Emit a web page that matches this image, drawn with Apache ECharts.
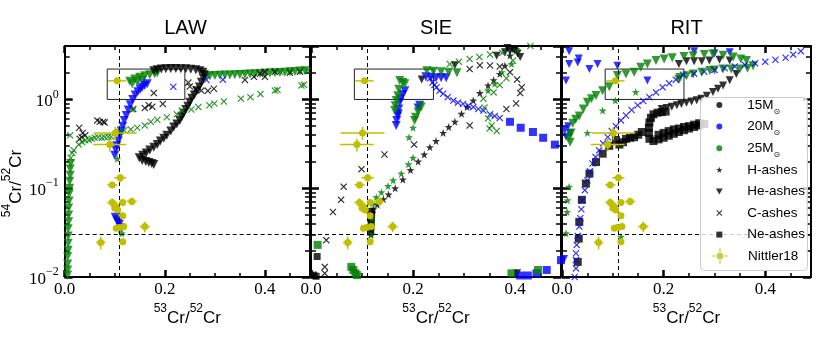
<!DOCTYPE html>
<html>
<head>
<meta charset="utf-8">
<script src="https://cdn.jsdelivr.net/npm/echarts@6/dist/echarts.min.js"></script>
<style>
  html, body { margin: 0; padding: 0; background: #fff; }
  #chart { width: 830px; height: 346px; }
</style>
</head>
<body>
<div id="chart"></div>
<script>
// ---- axes / reference values ----
const panels = ['LAW', 'SIE', 'RIT'];
const xMax = 0.49;
const yMin = 0.01, yMax = 4;
const xMajor = [0, 0.2, 0.4];
const xMinor = [0.05, 0.1, 0.15, 0.25, 0.3, 0.35, 0.45];
const yMinor = [0.02, 0.03, 0.04, 0.05, 0.06, 0.07, 0.08, 0.09, 0.2, 0.3, 0.4, 0.5, 0.6, 0.7, 0.8, 0.9, 2, 3];
const solarX = 0.1134, solarY = 0.0282;
const boxX = [0.085, 0.24], boxY = [1.0, 2.2];

// ---- Nittler18 grains (same in every panel) ----
const nitX    = [0.105, 0.101, 0.090, 0.111, 0.095, 0.095, 0.134, 0.116, 0.103, 0.106, 0.116, 0.109, 0.118, 0.103, 0.160, 0.072, 0.116, 0.100];
const nitY    = [1.62, 0.42, 0.31, 0.131, 0.109, 0.069, 0.071, 0.069, 0.062, 0.057, 0.049, 0.036, 0.037, 0.0355, 0.037, 0.0245, 0.025, 0.060];
const nitXErr = [0.018, 0.043, 0.033, 0.012, 0.010, 0.010, 0.010, 0.003, 0.004, 0.004, 0.003, 0.003, 0.003, 0.003, 0.010, 0.009, 0.002, 0.003];
const nitYErr = [0.10, 0.07, 0.05, 0.014, 0.009, 0.008, 0.007, 0.003, 0.003, 0.003, 0.002, 0.002, 0.002, 0.002, 0.005, 0.004, 0.001, 0.002];

// ---- LAW ----
const law15He = [[0.178,0.185],[0.174,0.19],[0.168,0.195],[0.162,0.2],[0.155,0.205],[0.149,0.22],[0.156,0.235],[0.163,0.25],[0.17,0.27],[0.178,0.29],[0.185,0.31],[0.191,0.34],[0.198,0.365],[0.204,0.394],[0.212,0.44],[0.218,0.49],[0.224,0.53],[0.23,0.58],[0.234,0.64],[0.238,0.7],[0.242,0.77],[0.246,0.84],[0.25,0.93],[0.254,1.03],[0.259,1.12],[0.264,1.25],[0.269,1.38],[0.273,1.56],[0.277,1.72],[0.279,1.9],[0.276,2.03],[0.27,2.1],[0.262,2.16],[0.252,2.19],[0.242,2.21],[0.232,2.22],[0.222,2.23],[0.212,2.23],[0.202,2.22],[0.193,2.2],[0.185,2.16],[0.178,2.1]];
const law15C = [[0.029,0.48],[0.034,0.375],[0.03,0.36],[0.041,0.394],[0.036,0.42],[0.065,0.58],[0.07,0.56],[0.077,0.56],[0.08,0.55],[0.137,0.78],[0.16,0.8],[0.168,0.86],[0.175,0.83],[0.196,0.89],[0.178,1.18],[0.25,1.4],[0.262,1.3],[0.273,1.26],[0.286,1.25],[0.298,1.32],[0.247,1.55],[0.36,1.66],[0.378,1.8],[0.40,1.8],[0.39,1.95],[0.40,2.05],[0.42,2.05],[0.45,2.0],[0.47,2.05]];
const law20He = [[0.1,0.235],[0.102,0.27],[0.104,0.3],[0.107,0.34],[0.11,0.39],[0.113,0.44],[0.116,0.5],[0.119,0.58],[0.123,0.66],[0.127,0.76],[0.131,0.87],[0.136,1.0],[0.141,1.12],[0.146,1.22],[0.151,1.3],[0.155,1.37],[0.16,1.44],[0.165,1.5],[0.101,0.047],[0.104,0.044],[0.107,0.041],[0.109,0.039],[0.111,0.036]];
const law20C = [[0.217,1.39],[0.283,1.66],[0.316,1.67]];
const law25He = [[0.006,0.0105],[0.006,0.012],[0.006,0.014],[0.006,0.017],[0.007,0.02],[0.007,0.024],[0.007,0.029],[0.007,0.035],[0.008,0.042],[0.008,0.05],[0.008,0.06],[0.009,0.072],[0.009,0.086],[0.01,0.1],[0.01,0.12],[0.011,0.14],[0.011,0.165],[0.012,0.19],
  [0.13,1.6],[0.14,1.7],[0.15,1.78],[0.16,1.85],[0.17,1.9],[0.18,1.95],[0.135,1.5],[0.145,1.58],[0.155,1.65],[0.185,2.0],
  [0.283,1.84],[0.29,1.85],[0.3,1.86],[0.31,1.87],[0.32,1.88],[0.33,1.89],[0.34,1.9],[0.35,1.91],[0.36,1.92],[0.37,1.94],[0.38,1.95],[0.39,1.96],[0.4,1.97],[0.41,1.98],[0.42,2.0],[0.43,2.01],[0.44,2.03],[0.45,2.05],[0.46,2.07],[0.47,2.09],[0.48,2.1]];
const law25C = [[0.012,0.22],[0.015,0.25],[0.011,0.394],[0.018,0.267],[0.028,0.31],[0.035,0.33],[0.041,0.346],[0.048,0.35],[0.054,0.36],[0.06,0.37],[0.067,0.375],[0.074,0.37],[0.08,0.375],[0.087,0.38],[0.093,0.38],[0.109,0.43],[0.119,0.45],[0.132,0.46],[0.145,0.48],[0.16,0.51],[0.172,0.56],[0.185,0.59],[0.204,0.63],[0.224,0.68],[0.234,0.75],[0.253,0.77],[0.267,0.82],[0.289,0.86],[0.299,0.9],[0.318,0.95],[0.352,1.02],[0.371,1.06],[0.391,1.15],[0.42,1.26],[0.425,1.28],[0.473,1.44],[0.478,1.46],[0.43,2.05],[0.45,2.08],[0.47,2.1],[0.485,2.12]];
const law25H = [[0.105,0.215],[0.114,0.031],[0.112,0.035],[0.136,0.78]];

// ---- SIE ----
const sie15H = [[0.118,0.03],[0.118,0.034],[0.118,0.038],[0.118,0.043],[0.119,0.048],[0.12,0.053],[0.122,0.058],[0.13,0.065],[0.142,0.075],[0.152,0.085],[0.165,0.1],[0.18,0.125],[0.195,0.16],[0.21,0.2],[0.222,0.24],[0.233,0.29],[0.245,0.34],[0.259,0.42],[0.27,0.49],[0.282,0.56],[0.295,0.69],[0.306,0.82],[0.318,0.97],[0.331,1.18],[0.347,1.44],[0.358,1.65],[0.37,1.94],[0.38,2.4],[0.39,3.12],[0.40,3.7]];
const sie15C = [[0.027,0.013],[0.027,0.011],[0.03,0.026],[0.043,0.054],[0.059,0.074],[0.064,0.104],[0.099,0.164],[0.144,0.24],[0.202,0.31],[0.311,0.51],[0.383,0.78],[0.402,0.9],[0.41,1.18],[0.413,1.37],[0.404,1.68],[0.39,2.03],[0.37,2.35],[0.351,2.41],[0.331,2.42],[0.311,2.2]];
const sie15He = [[0.217,1.68],[0.282,2.42],[0.364,3.1],[0.38,3.4],[0.39,3.5],[0.395,3.7],[0.4,3.6],[0.405,3.3],[0.41,3.0],[0.385,3.8],[0.404,0.011]];
const sie15Ne = [[0.012,0.017],[0.005,0.0105],[0.01,0.0102],[0.117,0.032],[0.117,0.036],[0.118,0.04],[0.118,0.045],[0.118,0.05],[0.119,0.055]];
const sie20He = [[0.167,0.51],[0.168,0.58],[0.17,0.65],[0.171,0.69],[0.172,0.78],[0.174,0.93],[0.176,1.02],[0.18,1.14],[0.184,1.25],[0.213,0.86],[0.21,0.8],[0.225,1.8],[0.235,1.78],[0.245,1.76],[0.255,1.75],[0.265,1.76]];
const sie20C = [[0.233,1.73],[0.238,1.55],[0.242,1.45],[0.246,1.37],[0.252,1.25],[0.259,1.16],[0.268,1.06],[0.279,0.97],[0.288,0.92],[0.298,0.89],[0.308,0.85],[0.318,0.82],[0.328,0.78],[0.338,0.75],[0.351,0.68],[0.36,0.65],[0.37,0.62]];
const sie20Ne = [[0.39,0.56],[0.411,0.48],[0.435,0.43],[0.455,0.37],[0.478,0.31],[0.41,0.0104],[0.425,0.0104],[0.442,0.011],[0.462,0.012],[0.49,0.0155]];
const sie25He = [[0.174,1.63],[0.18,1.55],[0.184,1.5],[0.172,1.3],[0.17,1.1],[0.167,0.97],[0.165,0.85],[0.164,0.75],[0.216,0.82],[0.21,0.72],[0.205,0.63],[0.203,0.58],[0.227,2.1],[0.24,2.08],[0.255,2.05],[0.27,2.03],[0.286,2.0]];
const sie25H = [[0.117,0.03],[0.118,0.036],[0.119,0.045],[0.121,0.067],[0.128,0.079],[0.138,0.09],[0.151,0.106],[0.161,0.123],[0.177,0.146],[0.191,0.186],[0.2,0.22],[0.192,0.375],[0.2,0.48],[0.347,1.26],[0.36,1.5],[0.374,2.03],[0.393,2.5]];
const sie25C = [[0.272,2.5],[0.29,2.65],[0.311,2.85],[0.33,3.0],[0.351,3.2],[0.375,3.35],[0.403,3.5],[0.43,4.0],[0.338,1.02],[0.34,0.81],[0.347,0.61],[0.354,0.51],[0.364,0.44],[0.35,0.47],[0.358,1.2],[0.37,1.45],[0.383,1.73],[0.396,2.74]];
const sie25Ne = [[0.013,0.023],[0.079,0.013],[0.083,0.012],[0.087,0.011],[0.09,0.0105],[0.393,0.011],[0.445,0.012]];

// ---- RIT ----
const rit15He = [[0.196,0.78],[0.206,0.8],[0.216,0.83],[0.226,0.86],[0.235,0.89],[0.245,0.92],[0.255,0.95],[0.265,0.98],[0.274,1.02],[0.285,1.1],[0.297,1.21],[0.307,1.32],[0.317,1.44],[0.33,1.65],[0.343,1.93],[0.23,2.5],[0.245,2.7],[0.26,2.7],[0.275,2.7],[0.29,2.75],[0.31,2.8],[0.33,2.75]];
const rit15Ne = [[0.031,0.0148],[0.033,0.0271],[0.034,0.0418],[0.039,0.074],[0.047,0.113],[0.054,0.146],[0.067,0.197],[0.08,0.245],[0.093,0.3],[0.106,0.35],[0.113,0.31],[0.12,0.33],[0.126,0.36],[0.134,0.37],[0.142,0.375],[0.15,0.4],[0.157,0.43],
  [0.172,0.36],[0.171,0.42],[0.171,0.48],[0.172,0.55],[0.175,0.62],[0.18,0.68],[0.188,0.71],[0.196,0.72],[0.204,0.73],
  [0.18,0.34],[0.19,0.355],[0.2,0.37],[0.21,0.39],[0.22,0.41],[0.23,0.43],[0.24,0.45],[0.25,0.47],[0.26,0.49],[0.27,0.51],[0.28,0.53],
  [0.19,0.4],[0.2,0.42],[0.21,0.44],[0.22,0.46],[0.23,0.47],[0.24,0.49],[0.25,0.5],[0.26,0.52],[0.27,0.54]];
const rit20He = [[0.014,3.5],[0.014,2.5],[0.031,2.6],[0.033,2.9],[0.054,2.2],[0.07,2.5],[0.109,2.4],[0.168,1.63],[0.008,1.63],[0.005,0.45],[0.012,0.5],[0.015,0.42],[0.008,0.38],[0.004,0.016],[0.26,3.5],[0.3,3.3],[0.33,3.4]];
const rit20C = [[0.025,0.01],[0.0275,0.0125],[0.0275,0.0155],[0.0275,0.0185],[0.029,0.023],[0.031,0.029],[0.034,0.037],[0.036,0.046],[0.038,0.058],[0.04,0.073],[0.045,0.095],[0.05,0.123],[0.055,0.155],[0.06,0.19],[0.066,0.225],[0.073,0.267],[0.081,0.32],[0.09,0.375],[0.098,0.44],[0.106,0.5],[0.116,0.58],[0.126,0.66],[0.137,0.76],[0.149,0.86],[0.16,0.96],[0.172,1.06],[0.185,1.2],[0.198,1.37],[0.211,1.52],[0.224,1.67],[0.238,1.9],[0.26,1.95],[0.28,2.05],[0.3,2.15],[0.32,2.25],[0.34,2.35],[0.36,2.45],[0.38,2.55],[0.4,2.65],[0.42,2.8],[0.44,2.95],[0.455,3.2],[0.47,3.5]];
const rit25He = [[0.014,0.375],[0.016,0.33],[0.018,0.42],[0.021,0.54],[0.027,0.6],[0.034,0.65],[0.042,0.78],[0.05,0.93],[0.058,1.02],[0.067,1.11],[0.08,1.25],[0.093,1.39],[0.109,1.86],[0.126,1.93],[0.142,2.03],[0.155,2.3],[0.168,2.5],[0.185,2.74],[0.201,2.85],[0.217,2.95],[0.24,3.05],[0.258,3.1],[0.28,3.2],[0.297,3.25],[0.317,3.15],[0.337,3.0],[0.352,2.85],[0.363,2.74],[0.376,2.4],[0.365,2.25],[0.35,2.2],[0.333,2.2],[0.317,2.2],[0.3,2.15],[0.291,2.12],[0.275,2.03],[0.258,1.93],[0.245,1.85],[0.232,1.77],[0.23,1.68]];
const rit25H = [[0.145,1.21],[0.105,0.97],[0.08,0.75],[0.05,0.42],[0.014,0.104],[0.011,0.073],[0.01,0.054],[0.008,0.031],[0.116,0.0284]];

// ---- marker shapes ----
const STAR = 'path://M0,-10L2.35,-3.24L9.51,-3.09L3.8,1.24L5.88,8.09L0,4L-5.88,8.09L-3.8,1.24L-9.51,-3.09L-2.35,-3.24Z';
const XMARK = 'path://M0,1.2L1.2,0L5,3.8L8.8,0L10,1.2L6.2,5L10,8.8L8.8,10L5,6.2L1.2,10L0,8.8L3.8,5Z';
const TRIDOWN = 'path://M0,0L10,0L5,9Z';
const SQUARE = 'path://M0,0L10,0L10,10L0,10Z';
const NITICON = 'path://M0,9.3L20,9.3L20,10.7L0,10.7Z M10.7,0L10.7,20L9.3,20L9.3,0Z M6,10A4,4 0 1,1 14,10A4,4 0 1,1 6,10Z';
const COL = { 15: '#000000', 20: '#0000ff', 25: '#008000' };
const YEL = '#bfbf00';
const SYM = { H: STAR, He: 'triangle', C: XMARK, Ne: 'rect' };
const SIZE = { H: 8, He: 8, C: 7, Ne: 7 };

const serif = 'Liberation Serif';
const sans = 'Liberation Sans';
const supRich = {
  b: { fontFamily: sans, fontSize: 17, lineHeight: 24, verticalAlign: 'bottom', color: '#000' },
  s: { fontFamily: sans, fontSize: 12, lineHeight: 12, verticalAlign: 'top', color: '#000' }
};

function sc(p, mass, kind, pts, size) {
  return {
    type: 'scatter', name: panels[p] + ' ' + mass + ' ' + kind,
    xAxisIndex: p * 4, yAxisIndex: p * 4,
    data: pts, symbol: SYM[kind], symbolRotate: kind === 'He' ? 180 : 0,
    symbolSize: size || SIZE[kind], itemStyle: { color: COL[mass] },
    silent: true, z: 2
  };
}

function nitRender(params, api) {
  const x = api.value(0), y = api.value(1), ex = api.value(2), ey = api.value(3);
  const c = api.coord([x, y]);
  const l = api.coord([x - ex, y]), r = api.coord([x + ex, y]);
  const t = api.coord([x, y + ey]), b = api.coord([x, y - ey]);
  const st = { stroke: YEL, lineWidth: 1.5 };
  return { type: 'group', children: [
    { type: 'line', shape: { x1: l[0], y1: c[1], x2: r[0], y2: c[1] }, style: st },
    { type: 'line', shape: { x1: c[0], y1: t[1], x2: c[0], y2: b[1] }, style: st },
    { type: 'circle', shape: { cx: c[0], cy: c[1], r: 3.5 }, style: { fill: YEL } }
  ]};
}
const nitData = nitX.map((x, i) => [x, nitY[i], nitXErr[i], nitYErr[i]]);

const grids = [
  { left: 61, top: 46, width: 249, height: 231 },
  { left: 311, top: 46, width: 250, height: 231 },
  { left: 562, top: 46, width: 249, height: 231 }
];

const xAxes = [], yAxes = [];
const yMinorLog = yMinor.map(v => Math.log10(v));
panels.forEach((p, i) => {
  const major = (pos) => ({
    gridIndex: i, type: 'value', position: pos, min: 0, max: xMax,
    axisLine: { show: true, onZero: false, lineStyle: { color: '#000', width: 2 } },
    axisTick: { show: true, inside: true, length: 7, customValues: xMajor, lineStyle: { color: '#000', width: 2.5 } },
    axisLabel: { show: pos === 'bottom', customValues: xMajor, formatter: v => v.toFixed(1),
      fontFamily: serif, fontSize: 17, color: '#000', margin: 4 },
    splitLine: { show: false },
    name: pos === 'bottom' ? '{s|53}{b|Cr/}{s|52}{b|Cr}' : '',
    nameLocation: 'middle', nameGap: 16, nameTextStyle: { rich: supRich }
  });
  const minor = (pos) => ({
    gridIndex: i, type: 'value', position: pos, min: 0, max: xMax,
    axisLine: { show: false, onZero: false },
    axisTick: { show: true, inside: true, length: 4, customValues: xMinor, lineStyle: { color: '#000', width: 1.5 } },
    axisLabel: { show: false }, splitLine: { show: false }
  });
  xAxes.push(major('bottom'), minor('bottom'), major('top'), minor('top'));

  const ymajor = (pos) => ({
    gridIndex: i, type: 'log', logBase: 10, position: pos, min: yMin, max: yMax,
    axisLine: { show: true, onZero: false, lineStyle: { color: '#000', width: 2 } },
    axisTick: { show: true, inside: true, length: 8, lineStyle: { color: '#000', width: 2.5 } },
    axisLabel: { show: i === 0 && pos === 'left', showMaxLabel: false, margin: 6,
      formatter: v => { const e = Math.round(Math.log10(v)); return '{b|10}{e|' + (e < 0 ? '\u2212' + (-e) : e) + '}'; },
      rich: {
        b: { fontFamily: serif, fontSize: 17, lineHeight: 22, verticalAlign: 'bottom', color: '#000' },
        e: { fontFamily: serif, fontSize: 12, lineHeight: 12, verticalAlign: 'top', color: '#000' }
      } },
    splitLine: { show: false },
    name: (i === 0 && pos === 'left') ? '{s|54}{b|Cr/}{s|52}{b|Cr}' : '',
    nameLocation: 'middle', nameGap: 38, nameRotate: 90,
    nameTextStyle: { rich: supRich, padding: [0, 44, 0, 0] }
  });
  const yminor = (pos) => ({
    gridIndex: i, type: 'value', position: pos, min: Math.log10(yMin), max: Math.log10(yMax),
    axisLine: { show: false, onZero: false },
    axisTick: { show: true, inside: true, length: 5, customValues: yMinorLog, lineStyle: { color: '#000', width: 1.5 } },
    axisLabel: { show: false }, splitLine: { show: false }
  });
  yAxes.push(ymajor('left'), yminor('left'), ymajor('right'), yminor('right'));
});

const refMarks = {
  markLine: {
    silent: true, symbol: 'none', label: { show: false },
    lineStyle: { color: '#000', width: 1, type: [4, 3] },
    data: [{ xAxis: solarX }, { yAxis: solarY }]
  },
  markArea: {
    silent: true,
    itemStyle: { color: 'rgba(0,0,0,0)', borderColor: '#222', borderWidth: 1 },
    data: [[{ xAxis: boxX[0], yAxis: boxY[0] }, { xAxis: boxX[1], yAxis: boxY[1] }]]
  }
};

const series = [
  sc(0, 25, 'He', law25He, 9), sc(0, 15, 'He', law15He, 9), sc(0, 15, 'C', law15C),
  sc(0, 20, 'He', law20He, 9), sc(0, 20, 'C', law20C), sc(0, 25, 'C', law25C), sc(0, 25, 'H', law25H),

  sc(1, 15, 'H', sie15H), sc(1, 15, 'C', sie15C), sc(1, 15, 'He', sie15He), sc(1, 15, 'Ne', sie15Ne),
  sc(1, 20, 'He', sie20He, 9), sc(1, 20, 'C', sie20C), sc(1, 20, 'Ne', sie20Ne, 8),
  sc(1, 25, 'He', sie25He, 9), sc(1, 25, 'H', sie25H), sc(1, 25, 'C', sie25C), sc(1, 25, 'Ne', sie25Ne, 8),

  sc(2, 15, 'Ne', rit15Ne, 8), sc(2, 15, 'He', rit15He), sc(2, 20, 'He', rit20He),
  sc(2, 25, 'He', rit25He, 9), sc(2, 20, 'C', rit20C), sc(2, 25, 'H', rit25H)
];
// reference lines and box on the first series of each panel
[0, 7, 18].forEach(k => Object.assign(series[k], refMarks));

panels.forEach((p, i) => {
  series.push({
    type: 'custom', name: p + ' Nittler18', xAxisIndex: i * 4, yAxisIndex: i * 4,
    data: nitData, renderItem: nitRender, encode: { x: 0, y: 1 }, clip: true, silent: true, z: 5
  });
});

// legend-only series
const legendItems = [
  { name: '15M', color: COL[15], icon: 'circle' },
  { name: '20M', color: COL[20], icon: 'circle' },
  { name: '25M', color: COL[25], icon: 'circle' },
  { name: 'H-ashes', color: '#000', icon: STAR },
  { name: 'He-ashes', color: '#000', icon: TRIDOWN },
  { name: 'C-ashes', color: '#000', icon: XMARK },
  { name: 'Ne-ashes', color: '#000', icon: SQUARE }
];
legendItems.forEach(it => series.push({ type: 'scatter', name: it.name, xAxisIndex: 0, yAxisIndex: 0, data: [], itemStyle: { color: it.color } }));
series.push({ type: 'scatter', name: 'Nittler18', xAxisIndex: 0, yAxisIndex: 0, data: [], itemStyle: { color: YEL } });

const legText = {
  fontFamily: sans, fontSize: 13.5, lineHeight: 21.6, color: '#000',
  rich: { o: { fontFamily: 'DejaVu Sans', fontSize: 8, lineHeight: 12, verticalAlign: 'bottom', color: '#000' } }
};

const option = {
  animation: false,
  backgroundColor: '#fff',
  title: panels.map((p, i) => ({
    text: p, left: grids[i].left + grids[i].width / 2, top: 18, textAlign: 'center', padding: 0,
    textStyle: { fontFamily: sans, fontSize: 20, fontWeight: 'normal', color: '#000' }
  })),
  grid: grids,
  xAxis: xAxes,
  yAxis: yAxes,
  graphic: [{
    type: 'rect', left: 700, top: 97, z: 10,
    shape: { width: 107, height: 173, r: 4 },
    style: { fill: 'rgba(255,255,255,0.8)', stroke: '#cccccc', lineWidth: 1 }
  }],
  legend: [{
    orient: 'vertical', align: 'left', left: 716, top: 94.2, padding: 0, itemGap: 0,
    itemWidth: 8, itemHeight: 6, selectedMode: false, z: 12,
    data: legendItems.map(it => ({ name: it.name, icon: it.icon })),
    formatter: n => /M$/.test(n) ? n + '{o|\u2299}' : n,
    textStyle: Object.assign({ padding: [0, 0, 0, 19] }, legText)
  }, {
    orient: 'vertical', align: 'left', left: 712, top: 245.2, padding: 0,
    itemWidth: 16, itemHeight: 16, selectedMode: false, z: 12,
    data: [{ name: 'Nittler18', icon: NITICON }],
    textStyle: Object.assign({ padding: [0, 0, 0, 15] }, legText)
  }],
  series: series
};

const chart = echarts.init(document.getElementById('chart'));
chart.setOption(option);
</script>
</body>
</html>
